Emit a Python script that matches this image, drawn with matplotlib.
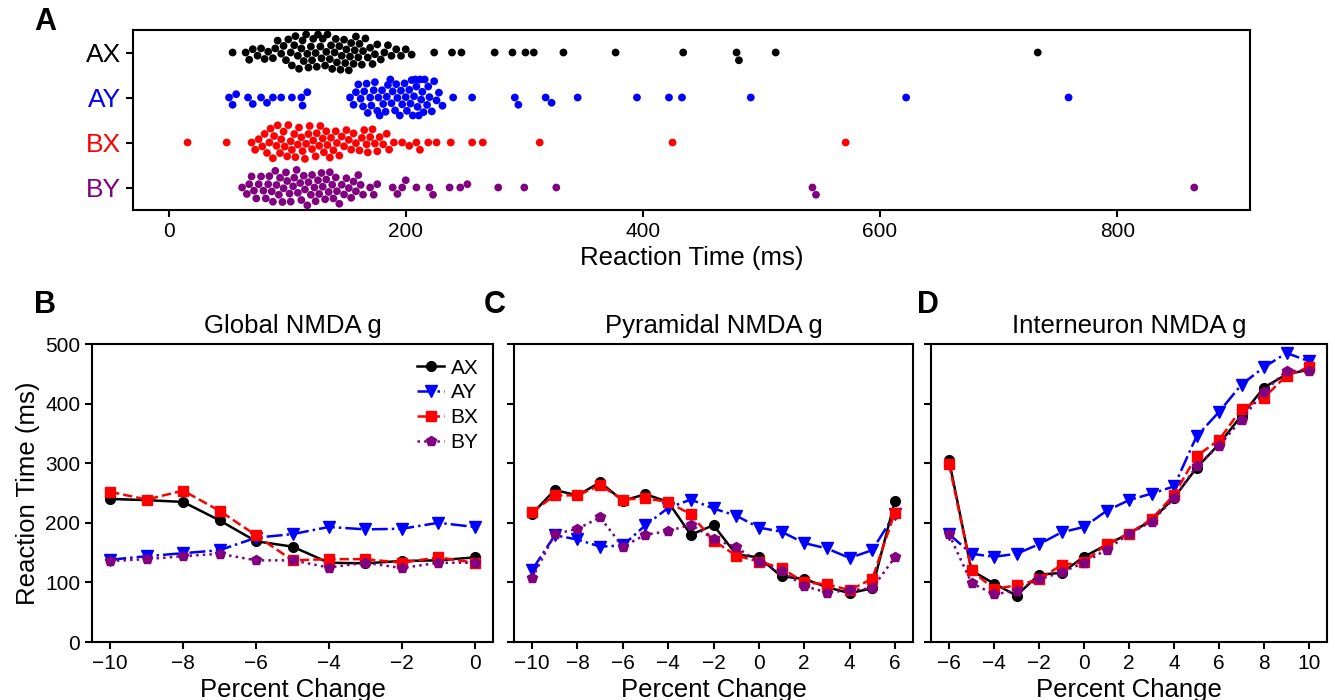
import matplotlib
matplotlib.use('Agg')
import numpy as np
import pandas as pd
import matplotlib.pyplot as plt
import seaborn as sns

plt.rcParams['font.family'] = ['Liberation Sans', 'DejaVu Sans']

# ---------------- Panel A data (reaction times, ms) ----------------
conds = ['AX', 'AY', 'BX', 'BY']
cond_colors = ['#000000', '#0000ff', '#ff0000', '#800080']

rt_AX = [54, 65, 68, 71, 75, 78, 81, 84, 88, 90, 92, 95, 97, 99, 101, 103, 104, 106,
         107, 109, 110, 112, 113, 114, 116, 117, 118, 120, 121, 122, 124, 125, 126,
         128, 129, 130, 132, 133, 134, 136, 137, 138, 140, 141, 142, 144, 145, 146,
         148, 149, 150, 152, 153, 154, 156, 157, 158, 160, 161, 163, 164, 166, 168,
         170, 172, 174, 176, 179, 182, 185, 188, 192, 196, 200, 205, 224, 239, 247,
         275, 290, 301, 308, 333, 377, 434, 479, 481, 512, 733]
rt_AY = [51, 54, 57, 67, 71, 78, 83, 88, 95, 104, 112, 113, 117,
         153, 156, 158, 160, 162, 164, 165, 167, 168, 170, 171, 173, 174, 176,
         177, 178, 180, 181, 183, 184, 185, 187, 188, 189, 191, 192,
         193, 195, 196, 197, 199, 200, 201, 203, 204, 205, 206, 207,
         208, 209, 210, 211, 212, 213, 214, 215, 216, 218, 219, 220, 222, 224, 226,
         228, 231, 240, 256, 292, 295, 318, 323, 345, 395, 422, 433, 491, 622, 759]
rt_BX = [16, 49, 70, 73, 76, 79, 81, 83, 85, 86, 88, 89, 91, 92, 94, 95, 97, 98, 100,
         101, 103, 104, 106, 107, 109, 110, 112, 113, 115, 116, 118, 119, 121, 122,
         124, 125, 127, 128, 130, 131, 133, 134, 136, 137, 139, 141, 142, 144, 146,
         148, 150, 152, 154, 156, 158, 161, 163, 165, 167, 168, 170, 172, 174, 176,
         178, 181, 184, 186, 190, 197, 203, 209, 212, 219, 226, 238, 256, 265, 313,
         425, 571]
rt_BY = [62, 66, 68, 70, 72, 74, 76, 78, 80, 82, 84, 85, 87, 88, 90, 91, 93, 94, 96,
         97, 99, 100, 102, 103, 105, 106, 108, 109, 111, 112, 114, 115, 117, 118, 120,
         121, 123, 124, 126, 127, 129, 130, 132, 133, 135, 136, 138, 139, 141, 142,
         144, 146, 148, 150, 152, 154, 156, 158, 160, 162, 164, 170, 173, 176, 189,
         193, 197, 200, 209, 220, 223, 237, 246, 252, 278, 300, 327, 543, 546, 865]

# ---------------- Panels B-D data ----------------
x_global = [-10, -9, -8, -7, -6, -5, -4, -3, -2, -1, 0]
g_AX = [240, 238, 235, 204, 169, 160, 133, 132, 136, 137, 142]
g_AY = [138, 144, 149, 154, 175, 181, 193, 189, 190, 200, 193]
g_BX = [252, 239, 254, 220, 179, 137, 139, 139, 133, 142, 133]
g_BY = [136, 139, 144, 148, 137, 137, 125, 133, 124, 133, 133]

x_pyr = [-10, -9, -8, -7, -6, -5, -4, -3, -2, -1, 0, 1, 2, 3, 4, 5, 6]
p_AX = [215, 255, 246, 268, 237, 248, 235, 180, 196, 147, 142, 110, 106, 92, 82, 90, 236]
p_AY = [121, 179, 172, 160, 162, 196, 225, 239, 224, 212, 192, 185, 166, 157, 141, 154, 215]
p_BX = [218, 246, 246, 263, 239, 241, 235, 214, 170, 145, 135, 124, 100, 97, 87, 106, 217]
p_BY = [107, 181, 190, 209, 160, 180, 186, 197, 173, 159, 134, 119, 94, 83, 87, 90, 142]

x_int = [-6, -5, -4, -3, -2, -1, 0, 1, 2, 3, 4, 5, 6, 7, 8, 9, 10]
i_AX = [305, 120, 98, 78, 113, 116, 143, 163, 182, 204, 242, 292, 332, 380, 427, 449, 457]
i_AY = [181, 148, 143, 148, 164, 184, 193, 220, 238, 249, 261, 345, 386, 432, 461, 485, 471]
i_BX = [299, 120, 89, 95, 105, 129, 134, 164, 182, 206, 247, 312, 339, 391, 410, 447, 461]
i_BY = [181, 99, 80, 86, 105, 117, 133, 155, 181, 202, 241, 295, 329, 373, 420, 455, 455]

W, H = 1335, 700
fig = plt.figure(figsize=(W / 100, H / 100), dpi=100)

def box(l, t, r, b):
    return [l / W, 1 - b / H, (r - l) / W, (b - t) / H]

SP_LW = 1.5
TICK_FS = 15

# ---------------- Panel A ----------------
axA = fig.add_axes(box(133, 30, 1250, 210))
df = pd.DataFrame({
    'rt': rt_AX + rt_AY + rt_BX + rt_BY,
    'cond': ['AX'] * len(rt_AX) + ['AY'] * len(rt_AY) + ['BX'] * len(rt_BX) + ['BY'] * len(rt_BY),
})
sns.swarmplot(data=df, x='rt', y='cond', hue='cond', order=conds, hue_order=conds,
              palette=cond_colors, size=5.6, ax=axA, legend=False, orient='h')
axA.set_xlim(-30, 912)
axA.set_ylim(3.5, -0.5)
axA.set_xticks([0, 200, 400, 600, 800])
axA.set_yticks([0, 1, 2, 3])
axA.set_yticklabels(conds, fontsize=19)
for lbl, c in zip(axA.get_yticklabels(), cond_colors):
    lbl.set_color(c)
axA.set_ylabel('')
axA.set_xlabel('Reaction Time (ms)', fontsize=18.5)
axA.tick_params(axis='x', labelsize=TICK_FS, width=SP_LW, length=5)
axA.tick_params(axis='y', width=SP_LW, length=5)
for s in axA.spines.values():
    s.set_linewidth(SP_LW)

# ---------------- Panels B-D ----------------
styles = {
    'AX': dict(color='black', linestyle='-', marker='o', markersize=7),
    'AY': dict(color='#0000ff', linestyle='-.', marker='v', markersize=8),
    'BX': dict(color='#ff0000', linestyle='--', marker='s', markersize=7),
    'BY': dict(color='#800080', linestyle=':', marker='p', markersize=7),
}

panels = [
    (box(92, 344, 493, 642), 'Global NMDA g', x_global, [g_AX, g_AY, g_BX, g_BY], list(range(-10, 1, 2))),
    (box(514, 344, 913, 642), 'Pyramidal NMDA g', x_pyr, [p_AX, p_AY, p_BX, p_BY], list(range(-10, 7, 2))),
    (box(931, 344, 1327, 642), 'Interneuron NMDA g', x_int, [i_AX, i_AY, i_BX, i_BY], list(range(-6, 11, 2))),
]

axes = []
for k, (rect, title, xs, series, xt) in enumerate(panels):
    ax = fig.add_axes(rect)
    for name, ys in zip(conds, series):
        ax.plot(xs, ys, label=name, linewidth=1.8, **styles[name])
    ax.set_ylim(0, 500)
    ax.set_yticks([0, 100, 200, 300, 400, 500])
    ax.set_xticks(xt)
    ax.set_title(title, fontsize=18.5, pad=8)
    ax.set_xlabel('Percent Change', fontsize=18.5)
    ax.tick_params(labelsize=TICK_FS, width=SP_LW, length=5)
    if k > 0:
        ax.set_yticklabels([])
    for s in ax.spines.values():
        s.set_linewidth(SP_LW)
    axes.append(ax)

axes[0].set_ylabel('Reaction Time (ms)', fontsize=18.5)
axes[0].legend(loc='upper right', frameon=False, fontsize=15, handlelength=1.3,
               handletextpad=0.3, labelspacing=0.28, borderaxespad=0.4, borderpad=0.3)

# panel letters
for letter, (px, py) in zip('ABCD', [(45, 22), (45, 305), (495, 305), (928, 305)]):
    fig.text(px / W, 1 - py / H, letter, fontsize=22, fontweight='bold',
             ha='center', va='center')

fig.savefig('out.png', dpi=100)
